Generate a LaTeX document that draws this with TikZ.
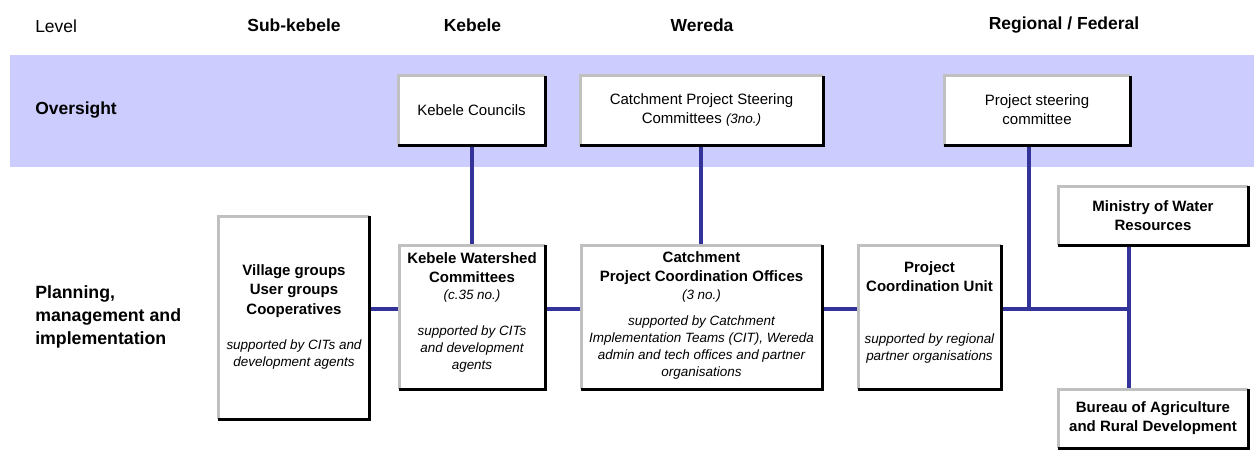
\documentclass[tikz,border=0pt]{standalone}
\usepackage{fontspec}
\setmainfont{Liberation Sans}
\usetikzlibrary{fit}
\definecolor{band}{HTML}{CCCCFF}
\definecolor{conn}{HTML}{333399}
\definecolor{edgegray}{HTML}{C0C0C0}
\newcommand\boxborder[1]{%
  \draw[edgegray,line width=2.25pt] (#1.south west) -- (#1.north west) -- (#1.north east);
  \draw[black,line width=2.25pt] (#1.north east) -- (#1.south east) -- (#1.south west);}
\begin{document}
\begin{tikzpicture}[x=0.75pt,y=-0.75pt,
  box/.style={draw=none,fill=white,inner sep=0pt,outer sep=0pt},
  head/.style={inner sep=0pt,font=\fontsize{13.1pt}{16pt}\selectfont},
  headb/.style={head,font=\fontsize{13.1pt}{16pt}\selectfont\bfseries},
  plain/.style={inner sep=0pt,align=center,font=\fontsize{11.25pt}{14.25pt}\selectfont},
  bold/.style={inner sep=0pt,align=center,font=\fontsize{11.25pt}{14.4pt}\selectfont\bfseries},
  ital/.style={inner sep=0pt,align=center,font=\fontsize{10.1pt}{12.75pt}\selectfont\itshape},
  link/.style={conn,line width=3pt}]
\useasboundingbox (0,0) rectangle (1254,467);
% band
\fill[band] (10,55) rectangle (1254,167);
% headers
\node[head,anchor=west] (hlevel) at (35,26) {Level};
\node[headb] (hsub) at (294,25) {Sub-kebele};
\node[headb] (hkeb) at (472.5,25) {Kebele};
\node[headb] (hwer) at (702,25) {Wereda};
\node[headb] (hreg) at (1064,25) {Regional / Federal};
\node[headb,anchor=west] (hover) at (35,110) {Oversight};
\node[headb,anchor=west,align=left,font=\fontsize{13.3pt}{17.25pt}\selectfont\bfseries] (hplan) at (35,317) {Planning,\\management and\\implementation};
% boxes
\node[box,fit={(398,76)(545,146)}] (kc) {};
\node[box,fit={(580,76)(823,146)}] (cps) {};
\node[box,fit={(944,76)(1130,146)}] (psc) {};
\node[box,fit={(218,216)(369,419)}] (vg) {};
\node[box,fit={(399,245)(545,389)}] (kwc) {};
\node[box,fit={(581,245)(822,389)}] (cpco) {};
\node[box,fit={(858,245)(1001,389)}] (pcu) {};
\node[box,fit={(1058,186)(1248,245)}] (mwr) {};
\node[box,fit={(1058,389)(1248,448)}] (bard) {};
% connectors
\draw[link] (kc.south -| 472,0) -- (kwc.north -| 472,0);
\draw[link] (cps.south -| 701,0) -- (cpco.north -| 701,0);
\draw[link] (vg.east |- 0,309) -- (kwc.west |- 0,309);
\draw[link] (kwc.east |- 0,309) -- (cpco.west |- 0,309);
\draw[link] (cpco.east |- 0,309) -- (pcu.west |- 0,309);
\coordinate (jn) at (1129,309);
\draw[link] (pcu.east |- jn) -- (jn);
\draw[link] (psc.south -| 1029,0) -- (1029,309);
\draw[link] (mwr.south -| jn) -- (bard.north -| jn);
% borders
\boxborder{kc}\boxborder{cps}\boxborder{psc}\boxborder{vg}\boxborder{kwc}
\boxborder{cpco}\boxborder{pcu}\boxborder{mwr}\boxborder{bard}
% texts
\node[plain] (tkc) at (471.5,110) {Kebele Councils};
\node[plain] (tcps) at (701.5,109.5) {Catchment Project Steering\\Committees {\fontsize{10.1pt}{12pt}\selectfont\itshape(3no.)}};
\node[plain] (tpsc) at (1037,109.5) {Project steering\\committee};
\node[bold] (tvg) at (294,291) {Village groups\\User groups\\Cooperatives};
\node[ital] (ivg) at (294,354.5) {supported by CITs and\\development agents};
\node[bold] (tkwc) at (472,268) {Kebele Watershed\\Committees};
\node[ital] (nkwc) at (472,296) {(c.35 no.)};
\node[ital] (ikwc) at (472,349) {supported by CITs\\and development\\agents};
\node[bold] (tcpco) at (701.5,268) {Catchment\\Project Coordination Offices};
\node[ital] (ncpco) at (701.5,296) {(3 no.)};
\node[ital] (icpco) at (701.5,347.5) {supported by Catchment\\Implementation Teams (CIT), Wereda\\admin and tech offices and partner\\organisations};
\node[bold] (tpcu) at (929.5,276.5) {Project\\Coordination Unit};
\node[ital] (ipcu) at (929.5,348.5) {supported by regional\\partner organisations};
\node[bold] (tmwr) at (1153,215.5) {Ministry of Water\\Resources};
\node[bold] (tbard) at (1153,418.5) {Bureau of Agriculture\\and Rural Development};
\end{tikzpicture}
\end{document}
